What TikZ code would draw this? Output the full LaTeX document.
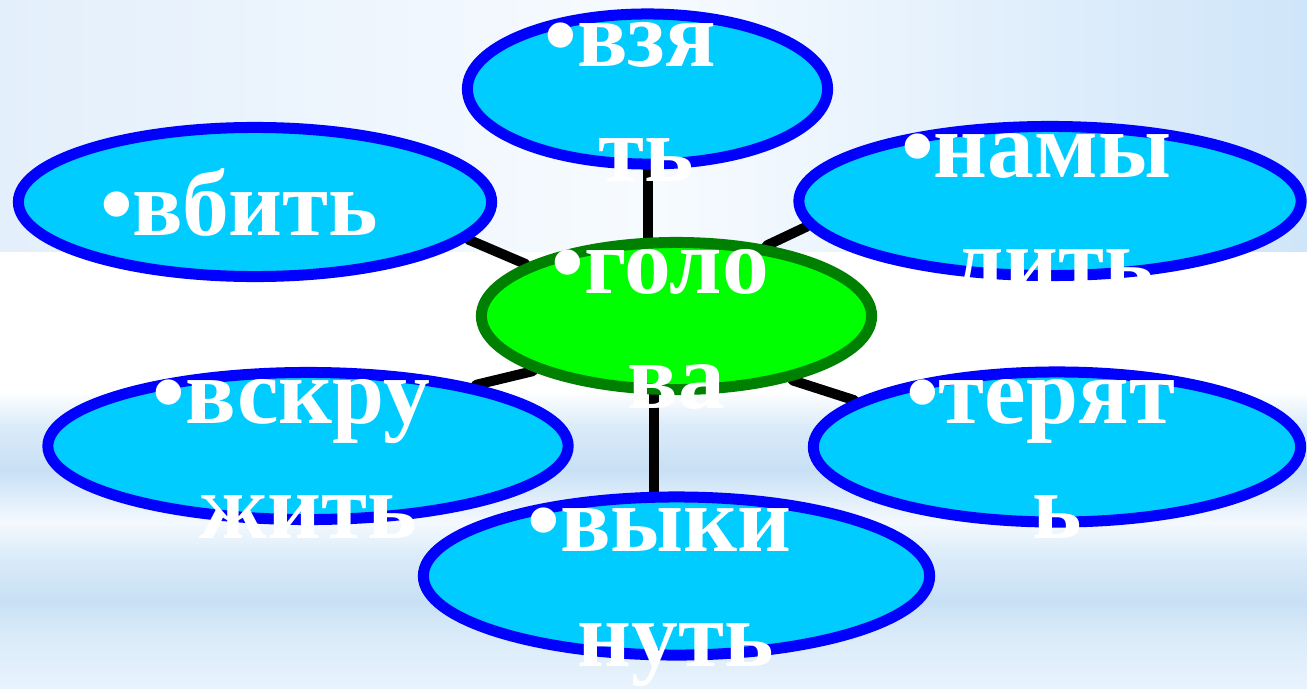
\documentclass[tikz,border=0pt]{standalone}
\usepackage{fontspec}
\setmainfont{Liberation Serif}
\usetikzlibrary{shapes.geometric,backgrounds}
\definecolor{skyfill}{HTML}{00CCFF}
\definecolor{ringblue}{HTML}{0000FF}
\definecolor{hubfill}{HTML}{00FF00}
\definecolor{hubring}{HTML}{008000}
\definecolor{bgleft}{HTML}{E3EFFB}
\definecolor{bgmid}{HTML}{F7FBFF}
\definecolor{bgright}{HTML}{CFE5F9}
\definecolor{bandlo}{HTML}{E8F3FD}
\definecolor{bandmd}{HTML}{DAEBF9}
\definecolor{banddk}{HTML}{C8E0F5}
\definecolor{bandhi}{HTML}{F4F9FE}
\pgfdeclareverticalshading{lowband}{100bp}{color(0bp)=(bandlo); color(25bp)=(bandlo); color(31bp)=(bandmd); color(35bp)=(banddk); color(40bp)=(bandmd); color(44bp)=(bandhi); color(50bp)=(banddk); color(55bp)=(bandmd); color(59bp)=(white); color(75bp)=(white); color(100bp)=(white)}
\tikzset{
	leaf/.style={ellipse, draw=ringblue, fill=skyfill, line width=0.11cm, inner sep=0pt},
	hub/.style={ellipse, draw=hubring, fill=hubfill, line width=0.11cm, inner sep=0pt},
	word/.style={text=white, align=center, inner sep=0pt, font=\fontsize{26.6pt}{32.7pt}\selectfont\bfseries},
	spoke/.style={line width=0.1cm, black, line cap=round}
}
\newcommand{\bl}{\strut\llap{•}}
\begin{document}
\begin{tikzpicture}[x=0.01cm,y=-0.01cm]
	\useasboundingbox (0,0) rectangle (1307,688);
	\node[leaf, minimum width=3.6cm, minimum height=1.5cm] (vz) at (647.5,89) {};
	\node[leaf, minimum width=4.73cm, minimum height=1.49cm] (vb) at (255,202) {};
	\node[leaf, minimum width=5.02cm, minimum height=1.49cm] (nm) at (1050,201) {};
	\node[hub, minimum width=3.9cm, minimum height=1.47cm] (gl) at (676.5,316) {};
	\node[leaf, minimum width=5.2cm, minimum height=1.47cm] (vs) at (308,446) {};
	\node[leaf, minimum width=4.87cm, minimum height=1.5cm] (tr) at (1057,447) {};
	\node[leaf, minimum width=5.06cm, minimum height=1.58cm] (vk) at (676.5,576) {};
	\node[word] (vz-t) at (646.5,101.4) {\bl взя\\\strut ть};
	\node[word] (vb-t) at (255.5,213) {\bl вбить};
	\node[word] (nm-t) at (1052.6,212.4) {\bl намы\\\strut лить};
	\node[word] (gl-t) at (676.5,328.4) {\bl голо\\\strut ва};
	\node[word] (vs-t) at (308,458.4) {\bl вскру\\\strut жить};
	\node[word] (tr-t) at (1057,458.4) {\bl терят\\\strut ь};
	\node[word] (vk-t) at (676,586.4) {\bl выки\\\strut нуть};
	\begin{scope}[on background layer]
		\shade[left color=bgleft, right color=bgright, middle color=bgmid] (0,0) rectangle (1307,252);
		\shade[shading=lowband] (0,252) rectangle (1307,688);
		\draw[spoke] (vz.south) -- (vz.south |- gl);
		\draw[spoke] (vk.105) -- (vk.105 |- gl);
		\draw[spoke] (gl.161) -- (vb.-10);
		\draw[spoke] (gl.38) -- (nm.186);
		\draw[spoke] (gl.201) -- (vs.20);
		\draw[spoke] (gl.-29) -- (tr.167);
	\end{scope}
\end{tikzpicture}
\end{document}
